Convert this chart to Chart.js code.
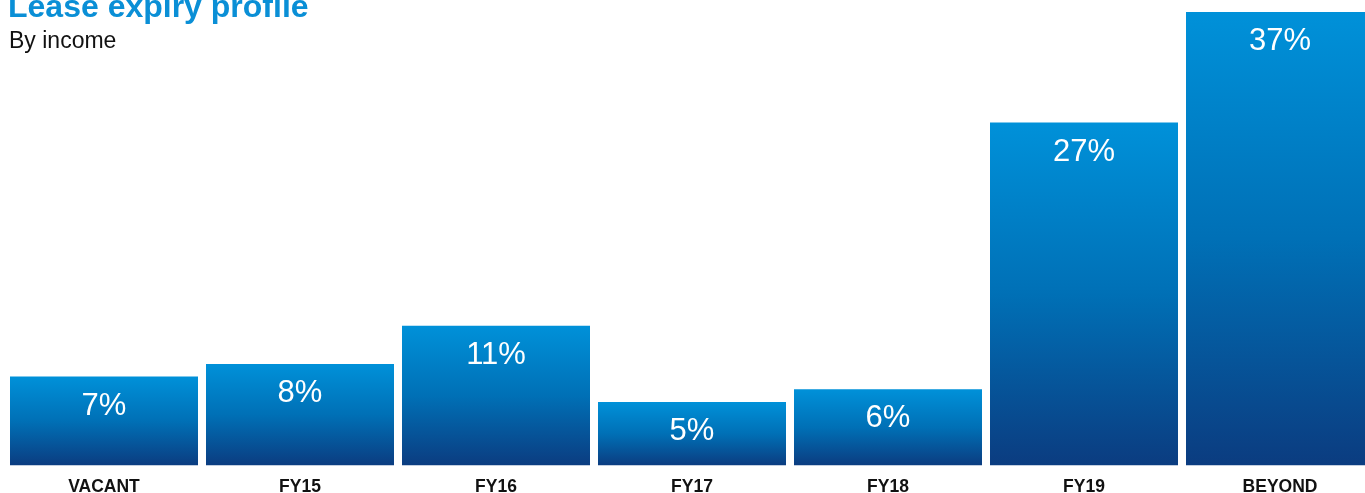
<!DOCTYPE html>
<html>
<head>
<meta charset="utf-8">
<title>Lease expiry profile</title>
<script src="https://cdn.jsdelivr.net/npm/chart.js@4/dist/chart.umd.min.js"></script>
<style>
    html, body { margin: 0; padding: 0; background: #fff; overflow: hidden; }
    #wrap { position: absolute; left: 0; top: 0; width: 1378px; height: 493px; }
</style>
</head>
<body>
<div id="wrap"><canvas id="chart-lease"></canvas></div>
<script>
// data
const CATEGORIES = ['VACANT', 'FY15', 'FY16', 'FY17', 'FY18', 'FY19', 'BEYOND'];
const INCOME_SHARE = [7, 8, 11, 5, 6, 27, 37];
const TITLE = 'Lease expiry profile';
const SUBTITLE = 'By income';

const FONT = '"Liberation Sans", Arial, Helvetica, sans-serif';

//=====> bar gradient, one per bar, from its top down to the baseline
function barGradient(ctx) {
    const chart = ctx.chart;
    const area = chart.chartArea;
    if (!area || ctx.type !== 'data') return '#0090d8';
    const y = chart.scales.y;
    const top = Math.max(y.getPixelForValue(ctx.raw), area.top);
    const base = y.getPixelForValue(0);
    const g = chart.ctx.createLinearGradient(0, top, 0, base);
    g.addColorStop(0, '#0091d9');
    g.addColorStop(0.5, '#0070b6');
    g.addColorStop(1, '#0b3c80');
    return g;
}

// white % labels inside the bars + the heading text
const labelsPlugin = {
    id: 'barLabels',
    afterDatasetsDraw(chart) {
        const ctx = chart.ctx;
        const area = chart.chartArea;
        const meta = chart.getDatasetMeta(0);
        ctx.save();
        ctx.fillStyle = '#ffffff';
        ctx.font = '31px ' + FONT;
        ctx.textAlign = 'center';
        ctx.textBaseline = 'alphabetic';
        meta.data.forEach(function(bar, i) {
            const top = Math.max(bar.y, area.top);
            ctx.fillText(INCOME_SHARE[i] + '%', bar.x, top + 38);
        });
        ctx.restore();
    },
    afterDraw(chart) {
        const ctx = chart.ctx;
        ctx.save();
        ctx.textAlign = 'left';
        ctx.textBaseline = 'alphabetic';
        ctx.fillStyle = '#0a8fd6';
        ctx.font = 'bold 32px ' + FONT;
        ctx.fillText(TITLE, 8, 17);
        ctx.fillStyle = '#111111';
        ctx.font = '23px ' + FONT;
        ctx.fillText(SUBTITLE, 9, 48);
        ctx.restore();
    }
};

new Chart(document.getElementById('chart-lease'), {
    type: 'bar',
    data: {
        labels: CATEGORIES,
        datasets: [
            {
                label: 'Share of income',
                data: INCOME_SHARE,
                backgroundColor: barGradient,
                borderWidth: 0,
                barPercentage: 1,
                categoryPercentage: 188 / 196
            }
        ]
    },
    options: {
        responsive: true,
        maintainAspectRatio: false,
        animation: false,
        layout: {
            padding: { left: 6, right: 0, top: 12, bottom: -16 }
        },
        plugins: {
            legend: { display: false },
            tooltip: { enabled: false },
            title: { display: false }
        },
        scales: {
            x: {
                grid: { display: false, drawTicks: false },
                border: { display: false },
                ticks: {
                    color: '#111111',
                    padding: 13,
                    font: { family: FONT, size: 17.5, weight: 'bold', lineHeight: 1 }
                }
            },
            y: {
                display: false,
                min: 0,
                max: 35.7
            }
        }
    },
    plugins: [labelsPlugin]
});
</script>
</body>
</html>
